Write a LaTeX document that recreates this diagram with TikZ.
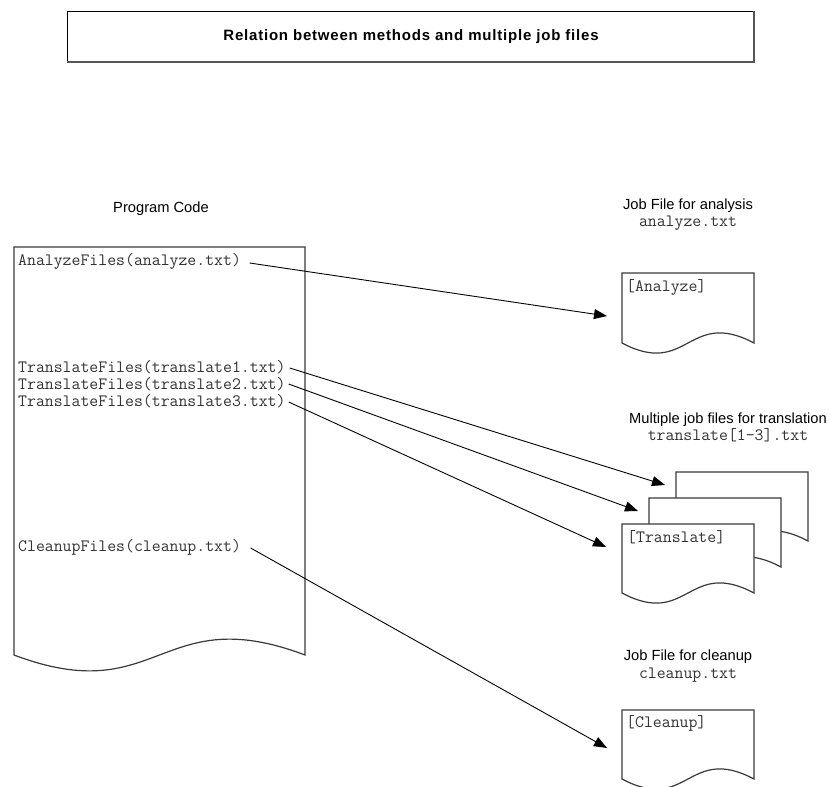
\documentclass[tikz,border=0pt]{standalone}
\usepackage{fontspec}
\setmainfont{Liberation Sans}
\newfontfamily\titlefnt[LetterSpace=5.3]{Liberation Sans}
\usetikzlibrary{arrows.meta}
\definecolor{docgray}{HTML}{3A3A3A}
\definecolor{shadowgray}{HTML}{555555}
\definecolor{codegray}{HTML}{333333}
\tikzset{
  lbl/.style={inner sep=0pt, anchor=base, font=\fontsize{14.7}{16}\selectfont},
  code/.style={inner sep=0pt, anchor=base west, text=codegray, font=\ttfamily\fontsize{17.3}{18}\selectfont},
  monolbl/.style={inner sep=0pt, anchor=base, text=codegray, font=\ttfamily\fontsize{17.3}{18}\selectfont},
  docline/.style={draw=docgray, line width=1.2pt, fill=white},
  conn/.style={draw=black, line width=0.9pt, -{Triangle[length=13pt,width=10pt]}},
}
\newcommand{\docshape}[5]{%
  \path[docline] (#1,#4) -- (#1,#2) -- (#3,#2) -- (#3,#4)
    .. controls ({(#1+#3)/2},{#4-#5}) and ({(#1+#3)/2},{#4+#5}) .. (#1,#4) -- cycle;}
\begin{document}
\begin{tikzpicture}[x=1pt,y=-1pt]
\useasboundingbox (0,0) rectangle (830,787);
% title box
\draw[black, line width=1pt] (67,11) rectangle (754,62);
\draw[shadowgray, line width=2pt] (67,62) -- (754,62) -- (754,11);
\node[lbl, font=\titlefnt\bfseries\fontsize{15}{17}\selectfont] (title) at (411,40.7) {Relation between methods and multiple job files};

% left program code document
\node[lbl] (pclbl) at (161,212) {Program Code};
\docshape{14}{247}{305}{655}{55}
\node[code] (c1) at (18,265) {AnalyzeFiles(analyze.txt)};
\node[code] (c2) at (18,372) {TranslateFiles(translate1.txt)};
\node[code] (c3) at (18,389) {TranslateFiles(translate2.txt)};
\node[code] (c4) at (18,406) {TranslateFiles(translate3.txt)};
\node[code] (c5) at (18,551) {CleanupFiles(cleanup.txt)};

% analyze job file
\node[lbl] (alab) at (688,209) {Job File for analysis};
\node[monolbl] (afile) at (688,226) {analyze.txt};
\docshape{622}{273}{754}{343}{35}
\node[code] (adoc) at (626,291) {[Analyze]};

% translate job files
\node[lbl] (tlab) at (728,423) {Multiple job files for translation};
\node[monolbl] (tfile) at (728,440) {translate[1-3].txt};
\docshape{676}{472}{808}{541}{35}
\docshape{649}{498}{781}{567}{35}
\docshape{622}{524}{754}{593}{35}
\node[code] (tdoc) at (627,542) {[Translate]};

% cleanup job file
\node[lbl] (clab) at (688,660) {Job File for cleanup};
\node[monolbl] (cfile) at (688,678) {cleanup.txt};
\docshape{622}{710}{754}{779}{35}
\node[code] (cdoc) at (626,727) {[Cleanup]};

% arrow targets
\coordinate (ta) at (607,316);
\coordinate (t1) at (665,485);
\coordinate (t2) at (638,511);
\coordinate (t3) at (606,547);
\coordinate (tc) at (607,748);

% connectors
\draw[conn] ([xshift=8.5pt,yshift=2pt]c1.base east) -- (ta);
\draw[conn] ([xshift=4pt,yshift=4pt]c2.base east) -- (t1);
\draw[conn] ([xshift=3pt,yshift=5pt]c3.base east) -- (t2);
\draw[conn] ([xshift=3pt,yshift=4pt]c4.base east) -- (t3);
\draw[conn] ([xshift=9.5pt,yshift=3pt]c5.base east) -- (tc);
\end{tikzpicture}
\end{document}
